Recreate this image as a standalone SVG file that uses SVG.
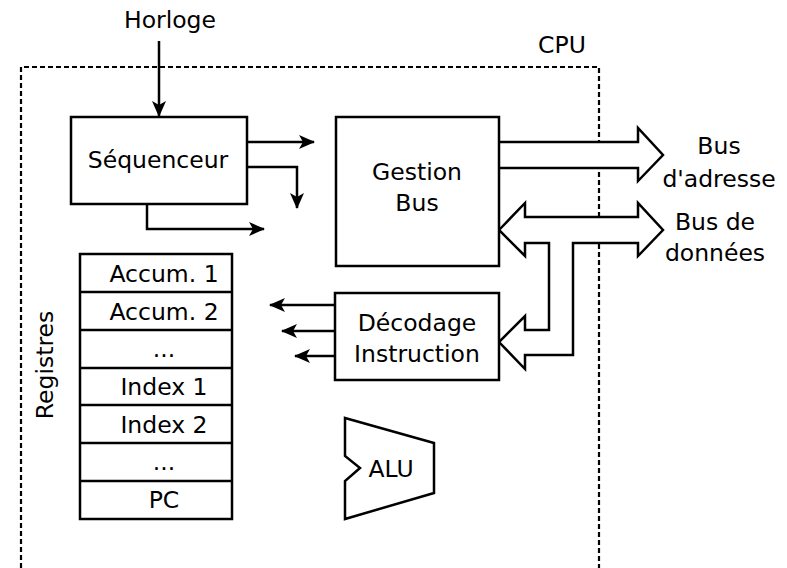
<svg xmlns="http://www.w3.org/2000/svg" width="787" height="568" viewBox="0 0 787 568">
<style>
text{font-family:"DejaVu Sans","Liberation Sans",sans-serif;font-size:23.5px;fill:#000;text-anchor:middle}
.box{fill:#fff;stroke:#000;stroke-width:2.5}
.ln{fill:none;stroke:#000;stroke-width:2.5}
.arr{fill:none;stroke:#000;stroke-width:2.5;marker-end:url(#ah)}
.bus{fill:#fff;stroke:#000;stroke-width:2.5;stroke-linejoin:miter}
</style>
<defs>
<marker id="ah" markerUnits="userSpaceOnUse" markerWidth="16" markerHeight="14" refX="15" refY="7" orient="auto">
<path d="M0,0 L16,7 L0,14 L4,7 Z" fill="#000"/>
</marker>
</defs>
<g id="cpu">
<path d="M21,568 V67 H599 V568" fill="none" stroke="#000" stroke-width="2.2" stroke-dasharray="5,3"/>
<text x="562" y="53">CPU</text>
</g>
<g id="horloge"><text x="170" y="28">Horloge</text></g>
<g id="connectors">
<path class="arr" d="M159,41 V116"/>
<path class="arr" d="M247,142 H314"/>
<path class="arr" d="M247,167 H297 V208"/>
<path class="arr" d="M147,204 V229 H264"/>
<path class="arr" d="M335,305 H270"/>
<path class="arr" d="M335,331 H282"/>
<path class="arr" d="M335,356 H295"/>
<path class="bus" d="M499,142 H638 V128 L663,155 L638,181 V168 H499"/>
<path class="bus" d="M499,230 L525,203 V217 H638 V203 L663,230 L638,256 V243 H573 V355 H525 V369 L499,342 L525,316 V330 H549 V243 H525 V256 Z"/>
</g>
<g id="sequenceur">
<rect class="box" x="71" y="117" width="176" height="87"/>
<text x="158" y="168">Séquenceur</text>
</g>
<g id="gestion-bus">
<rect class="box" x="336" y="117" width="163" height="149"/>
<text x="417" y="180">Gestion</text>
<text x="417" y="211">Bus</text>
</g>
<g id="bus-adresse"><text x="719" y="154">Bus</text><text x="719" y="187">d'adresse</text></g>
<g id="bus-donnees"><text x="715" y="230">Bus de</text><text x="715" y="261">données</text></g>
<g id="decodage">
<rect class="box" x="335" y="293" width="164" height="87"/>
<text x="417" y="331">Décodage</text>
<text x="417" y="362">Instruction</text>
</g>
<g id="alu">
<path class="box" d="M345,418 L434,443 V493 L345,519 V481 L360,468 L345,456 Z"/>
<text x="391" y="477">ALU</text>
</g>
<g id="registres">
<rect class="box" x="80" y="254" width="152" height="265"/>
<path class="ln" d="M80,292 H232 M80,330 H232 M80,368 H232 M80,405 H232 M80,443 H232 M80,481 H232"/>
<text x="164" y="282">Accum. 1</text>
<text x="164" y="320">Accum. 2</text>
<text x="164" y="357">...</text>
<text x="164" y="395">Index 1</text>
<text x="164" y="433">Index 2</text>
<text x="164" y="470">...</text>
<text x="164" y="508">PC</text>
<text transform="translate(53,365) rotate(-90)" x="0" y="0">Registres</text>
</g>
</svg>
